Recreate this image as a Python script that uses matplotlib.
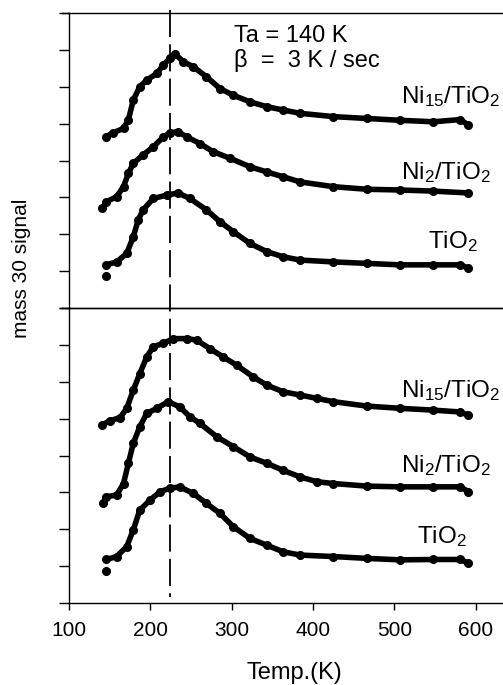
import matplotlib
matplotlib.use("Agg")
import matplotlib.pyplot as plt
from matplotlib.transforms import blended_transform_factory

plt.rcParams['font.family'] = ['Liberation Sans', 'DejaVu Sans']
plt.rcParams['mathtext.fontset'] = 'custom'
plt.rcParams['mathtext.rm'] = 'Liberation Sans'
plt.rcParams['mathtext.it'] = 'Liberation Sans:italic'
plt.rcParams['mathtext.bf'] = 'Liberation Sans:bold'

# ---- data ----
# upper panel
top_ni15_T = [145, 154, 167, 173, 179, 187, 195.5, 208, 216, 224, 230, 240.5, 253, 269, 285.6, 302, 322.5, 343, 363, 384, 425, 466, 507, 548, 581, 591]
top_ni15_v = [4.64, 4.75, 4.87, 5.10, 5.64, 6.00, 6.18, 6.36, 6.59, 6.77, 6.90, 6.68, 6.54, 6.27, 5.95, 5.77, 5.59, 5.46, 5.37, 5.28, 5.19, 5.14, 5.09, 5.05, 5.11, 4.96]

top_ni2_T = [141, 146, 158.6, 167, 173, 179, 191, 203.6, 216, 224, 234, 244.7, 261, 277, 298, 322.5, 343, 363, 384, 425, 466, 507, 548, 591]
top_ni2_v = [2.70, 2.88, 3.02, 3.29, 3.65, 3.92, 4.15, 4.37, 4.64, 4.75, 4.78, 4.64, 4.46, 4.24, 4.06, 3.83, 3.69, 3.56, 3.42, 3.29, 3.22, 3.20, 3.17, 3.12]

top_tio2_T = [145, 145.5, 158.6, 171, 179, 185, 191, 203.6, 220, 234, 248.7, 269, 285.6, 302, 322.5, 343, 363, 384, 425, 466, 507, 548, 581, 591]
top_tio2_v = [0.87, 1.17, 1.25, 1.48, 1.93, 2.38, 2.66, 2.97, 3.06, 3.12, 2.97, 2.66, 2.34, 2.07, 1.75, 1.53, 1.39, 1.30, 1.25, 1.21, 1.17, 1.17, 1.17, 1.08]

# lower panel
bot_ni15_T = [140, 150, 163, 171, 179, 187, 195.5, 203.6, 216, 228, 244.7, 257, 273, 289.7, 306, 326.6, 343, 363, 384, 404.5, 425, 466, 507, 548, 581, 591]
bot_ni15_v = [4.82, 4.94, 5.03, 5.28, 5.77, 6.22, 6.67, 6.95, 7.04, 7.17, 7.17, 7.13, 6.90, 6.67, 6.45, 6.13, 5.91, 5.73, 5.64, 5.55, 5.46, 5.34, 5.28, 5.23, 5.18, 5.09]

bot_ni2_T = [142, 146, 158.6, 167, 173, 179, 187, 195.5, 208, 222, 236, 248.7, 261, 281.5, 302, 322.5, 343, 363, 384, 404.5, 425, 466, 507, 548, 581, 591]
bot_ni2_v = [2.70, 2.88, 2.93, 3.24, 3.79, 4.33, 4.78, 5.14, 5.28, 5.46, 5.32, 5.05, 4.87, 4.51, 4.24, 3.96, 3.79, 3.60, 3.42, 3.29, 3.24, 3.17, 3.15, 3.15, 3.15, 3.02]

bot_tio2_T = [145.5, 146, 158.6, 171, 179, 187, 199.6, 212, 224, 236, 253, 269, 285.6, 302, 322.5, 343, 363, 384, 425, 466, 507, 548, 581, 591]
bot_tio2_v = [0.88, 1.18, 1.26, 1.53, 1.98, 2.52, 2.79, 3.02, 3.11, 3.15, 2.97, 2.70, 2.43, 2.07, 1.75, 1.57, 1.39, 1.30, 1.26, 1.21, 1.17, 1.18, 1.18, 1.08]

x_ticks = [100, 200, 300, 400, 500, 600]
y_ticks = [0, 1, 2, 3, 4, 5, 6, 7, 8]
peak_T = 224

labels_top = [r'Ni$_{15}$/TiO$_2$', r'Ni$_2$/TiO$_2$', r'TiO$_2$']
labels_bot = [r'Ni$_{15}$/TiO$_2$', r'Ni$_2$/TiO$_2$', r'TiO$_2$']

W, H = 503, 685
fig = plt.figure(figsize=(W / 100, H / 100), dpi=100)

left = 69 / W
width = (640 - 100) * 0.8135 / W
ax_top = fig.add_axes([left, 1 - 308 / H, width, 295 / H])
ax_bot = fig.add_axes([left, 1 - 603 / H, width, 295 / H])

def draw_curve(ax, T, v, skip_first=False):
    s = 1 if skip_first else 0
    ax.plot(T[s:], v[s:], color='black', lw=4.0, solid_capstyle='round',
            solid_joinstyle='round', zorder=3)
    ax.plot(T, v, 'o', color='black', ms=5.5, zorder=4)

draw_curve(ax_top, top_ni15_T, top_ni15_v)
draw_curve(ax_top, top_ni2_T, top_ni2_v)
draw_curve(ax_top, top_tio2_T, top_tio2_v, skip_first=True)
draw_curve(ax_bot, bot_ni15_T, bot_ni15_v)
draw_curve(ax_bot, bot_ni2_T, bot_ni2_v)
draw_curve(ax_bot, bot_tio2_T, bot_tio2_v, skip_first=True)

for ax in (ax_top, ax_bot):
    ax.set_xlim(100, 640)
    ax.set_ylim(0, 8)
    ax.set_yticks(y_ticks)
    ax.set_yticklabels([])
    ax.spines['right'].set_visible(False)
    for s in ('left', 'top', 'bottom'):
        ax.spines[s].set_linewidth(1.0)
    ax.tick_params(axis='y', direction='out', length=7, width=1)
    ax.set_facecolor('none')

ax_top.set_xticks([])
ax_bot.set_xticks(x_ticks)
ax_bot.set_xticklabels([str(t) for t in x_ticks], fontsize=15)
ax_bot.tick_params(axis='x', direction='out', length=5, width=1, pad=8)

# extend top-of-panel lines to the left like ticks
for ax in (ax_top, ax_bot):
    ax.plot([100 - 7 / 0.8135, 100], [8, 8], color='black', lw=1.0, clip_on=False)

# dashed line across both panels
tr = blended_transform_factory(ax_bot.transData, fig.transFigure)
ax_bot.plot([peak_T, peak_T], [1 - 10 / H, 1 - 597 / H], transform=tr,
            color='black', lw=1.3, ls=(0, (15, 4)), clip_on=False, zorder=5)

fs = 17.5
ax_top.text(508, 5.56, labels_top[0], fontsize=fs, va='baseline', ha='left', clip_on=False)
ax_top.text(508, 3.50, labels_top[1], fontsize=fs, va='baseline', ha='left')
ax_top.text(541, 1.63, labels_top[2], fontsize=fs, va='baseline', ha='left')
ax_bot.text(508, 5.58, labels_bot[0], fontsize=fs, va='baseline', ha='left', clip_on=False)
ax_bot.text(508, 3.55, labels_bot[1], fontsize=fs, va='baseline', ha='left')
ax_bot.text(528, 1.63, labels_bot[2], fontsize=fs, va='baseline', ha='left')

ax_top.text(303, 7.21, 'Ta = 140 K', fontsize=17, va='baseline', ha='left')
ax_top.text(303, 6.53, 'β  =  3 K / sec', fontsize=17, va='baseline', ha='left')

fig.text(22 / W, 1 - 268 / H, 'mass 30 signal', rotation=90, fontsize=15,
         ha='center', va='center')
fig.text(294 / W, 1 - 673 / H, 'Temp.(K)', fontsize=17, ha='center', va='center')

fig.savefig('out.png', dpi=100)
